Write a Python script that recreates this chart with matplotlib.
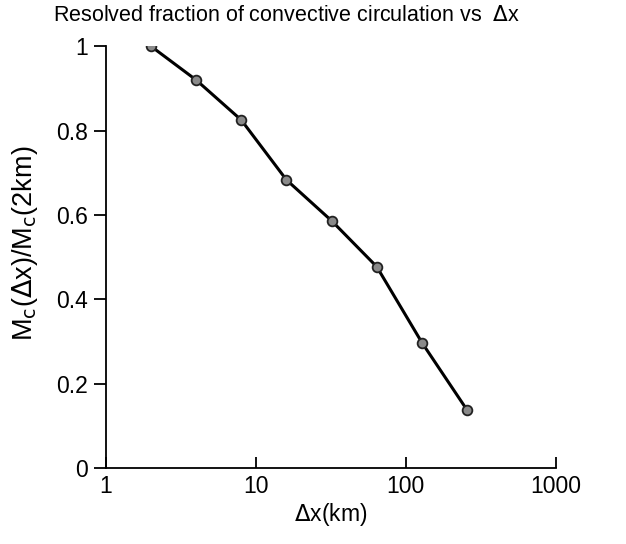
import matplotlib
matplotlib.use("Agg")
import matplotlib.pyplot as plt
from matplotlib.ticker import FixedLocator, NullLocator

# grid spacing (km) and resolved fraction of convective mass flux
dx_km = [2, 4, 8, 16, 32, 64, 128, 256]
frac = [1.0, 0.92, 0.825, 0.683, 0.586, 0.477, 0.297, 0.137]

xticks = [1, 10, 100, 1000]
xticklabels = ["1", "10", "100", "1000"]
yticks = [0, 0.2, 0.4, 0.6, 0.8, 1.0]
yticklabels = ["0", "0.2", "0.4", "0.6", "0.8", "1"]

plt.rcParams["font.family"] = ["Liberation Sans", "DejaVu Sans"]

fig = plt.figure(figsize=(6.26, 5.44), dpi=100)
ax = fig.add_axes([0.169, 0.14, 0.719, 0.775])

ax.plot(dx_km, frac, color="black", lw=2.2, marker="o", ms=7,
        mfc="#8a8a8a", mec="#222222", mew=1.3)

ax.set_xscale("log")
ax.set_xlim(1, 1000)
ax.set_ylim(0, 1)
ax.xaxis.set_major_locator(FixedLocator(xticks))
ax.xaxis.set_minor_locator(NullLocator())
ax.set_xticklabels(xticklabels)
ax.set_yticks(yticks)
ax.set_yticklabels(yticklabels)

for s in ["top", "right"]:
    ax.spines[s].set_visible(False)
for s in ["left", "bottom"]:
    ax.spines[s].set_linewidth(1.3)

ax.tick_params(axis="x", direction="in", length=8, width=1.3, labelsize=16.5, pad=5)
ax.tick_params(axis="y", direction="out", length=9, width=1.3, labelsize=16.5, pad=4)

ax.set_xlabel(r"$\Delta$x(km)", fontsize=16.5, labelpad=2)
ax.set_ylabel(r"M$_\mathrm{c}$($\Delta$x)/M$_\mathrm{c}$(2km)", fontsize=19.5)
ax.yaxis.set_label_coords(-0.146, 0.533)

fig.text(0.457, 0.972, r"Resolved fraction of convective circulation vs  $\Delta$x",
         ha="center", va="center", fontsize=15.5)

fig.savefig("out.png", dpi=100)
